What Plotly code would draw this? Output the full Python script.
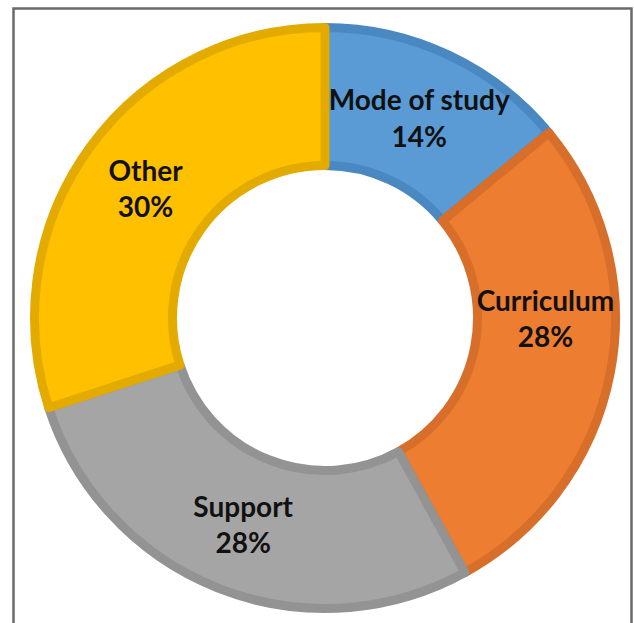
import plotly.graph_objects as go

labels = ["Mode of study", "Curriculum", "Support", "Other"]
values = [14, 28, 28, 30]
fill_colors = ["#5B9BD5", "#ED7D31", "#A5A5A5", "#FFC000"]
line_colors = ["#4A88C2", "#D76E2A", "#939393", "#E3AB00"]

W, H = 634, 623
cx, cy, R = 325, 318, 290.5
LW = 9

fig = go.Figure(go.Pie(
    labels=labels,
    values=values,
    sort=False,
    direction="clockwise",
    rotation=0,
    hole=0.525,
    marker=dict(colors=fill_colors, line=dict(color=line_colors, width=LW)),
    texttemplate="%{label}<br>%{percent:.0%}",
    textposition="inside",
    insidetextorientation="horizontal",
    textfont=dict(family="Lato", size=28, color="#111111", weight="bold"),
    hoverinfo="skip",
    showlegend=False,
    domain=dict(x=[(cx - R) / W, (cx + R) / W], y=[(H - cy - R) / H, (H - cy + R) / H]),
))

fig.update_layout(
    width=W, height=H,
    margin=dict(l=0, r=0, t=0, b=0),
    paper_bgcolor="white",
    plot_bgcolor="white",
    uniformtext=dict(minsize=28, mode="show"),
    shapes=[dict(type="rect", xref="paper", yref="paper",
                 x0=13.5 / W, x1=631.5 / W, y0=-0.05, y1=1 - 8.5 / H,
                 line=dict(color="#6a6a6a", width=2.5), fillcolor="rgba(0,0,0,0)")],
)

fig.write_html(
    "out.html",
    config={"displayModeBar": False},
    post_script="document.body.style.margin='0';document.body.style.overflow='hidden';",
)
